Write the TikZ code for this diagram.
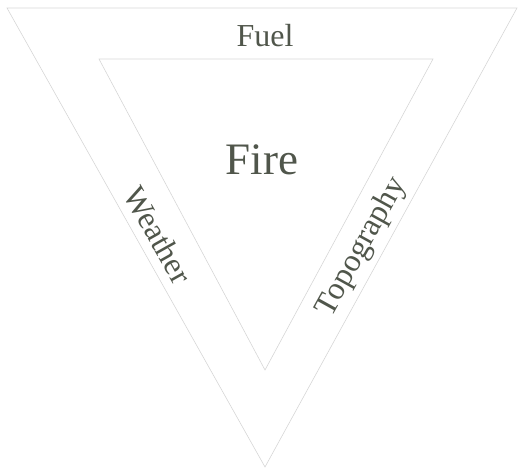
\documentclass[tikz,border=0pt]{standalone}
\usepackage{fontspec}
\setmainfont{Liberation Serif}
\definecolor{inkgray}{HTML}{50564B}
\definecolor{edgegray}{HTML}{D6D6D6}
\begin{document}
\begin{tikzpicture}[x=1pt, y=-1pt,
            edge/.style={draw=edgegray, line width=0.6pt, line join=miter},
            label/.style={text=inkgray, inner sep=0pt, font=\fontsize{32}{34}\selectfont}
            ]
            \useasboundingbox (0,0) rectangle (519,470);

            % outer triangle
            \coordinate (o1) at (7,8);
            \coordinate (o2) at (517,8);
            \coordinate (o3) at (265,467);
            % inner triangle
            \coordinate (i1) at (99,59);
            \coordinate (i2) at (433,59);
            \coordinate (i3) at (265,370);

            \draw[edge] (o1)--(o2)--(o3)--cycle;
            \draw[edge] (i1)--(i2)--(i3)--cycle;

            \node[label] (fuel) at (265,36) {Fuel};
            \node[label, font=\fontsize{45}{48}\selectfont] (fire) at (262,160) {Fire};
            \node[label, rotate=-60.7] (weather) at (158,235) {Weather};
            \node[label, rotate=61] (topo) at (362,247) {Topography};

\end{tikzpicture}
\end{document}
